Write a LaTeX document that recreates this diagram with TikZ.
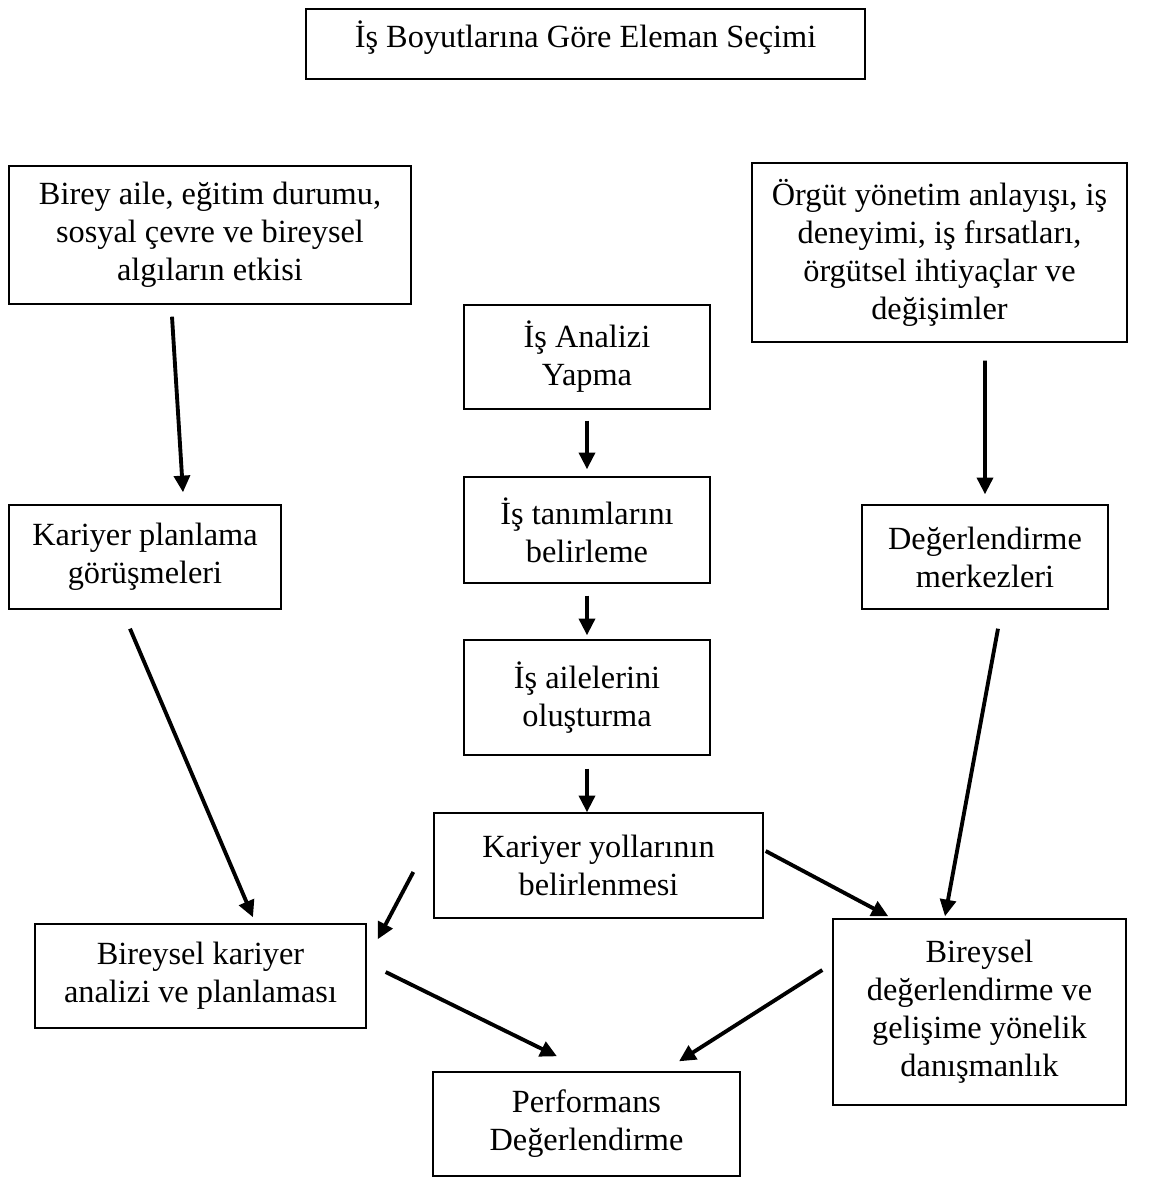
\documentclass[tikz,border=0pt]{standalone}
\usepackage{fontspec}
\setmainfont{Liberation Serif}
\usetikzlibrary{arrows.meta}

\begin{document}
\begin{tikzpicture}[x=0.02cm, y=-0.02cm, font=\fontsize{18.4}{21.6}\selectfont]
	\tikzset{
		kutu/.style={rectangle, draw=black, line width=0.8pt, align=center, inner sep=2pt},
		arrow/.style={line width=2.2pt, -{Triangle[width=9pt, length=9.5pt]}},
	}
	\useasboundingbox (0,0) rectangle (1156,1178);
	\node[kutu, minimum width=11.18cm, minimum height=1.4cm, text depth=0.4cm](baslik) at (585.5,44) {İş Boyutlarına Göre Eleman Seçimi};
	\node[kutu, minimum width=8.04cm, minimum height=2.76cm](birey) at (210,235) {Birey aile, eğitim durumu,\\ sosyal çevre ve bireysel\\ algıların etkisi};
	\node[kutu, minimum width=7.5cm, minimum height=3.58cm](orgut) at (939.5,252.5) {Örgüt yönetim anlayışı, iş\\ deneyimi, iş fırsatları,\\ örgütsel ihtiyaçlar ve\\ değişimler};
	\node[kutu, minimum width=4.92cm, minimum height=2.08cm](analiz) at (587,357) {İş Analizi\\ Yapma};
	\node[kutu, minimum width=4.92cm, minimum height=2.12cm](tanim) at (587,530) {İş tanımlarını\\ belirleme};
	\node[kutu, minimum width=4.92cm, minimum height=2.3cm](aile) at (587,697.5) {İş ailelerini\\ oluşturma};
	\node[kutu, minimum width=6.58cm, minimum height=2.1cm](yol) at (598.5,865.5) {Kariyer yollarının\\ belirlenmesi};
	\node[kutu, minimum width=5.44cm, minimum height=2.08cm](gorusme) at (145,557) {Kariyer planlama\\ görüşmeleri};
	\node[kutu, minimum width=4.92cm, minimum height=2.08cm](merkez) at (985,557) {Değerlendirme\\ merkezleri};
	\node[kutu, minimum width=6.62cm, minimum height=2.08cm](bireysel) at (200.5,976) {Bireysel kariyer\\ analizi ve planlaması};
	\node[kutu, minimum width=5.86cm, minimum height=3.72cm](danisma) at (979.5,1012) {Bireysel\\ değerlendirme ve\\ gelişime yönelik\\ danışmanlık};
	\node[kutu, minimum width=6.14cm, minimum height=2.08cm](performans) at (586.5,1124) {Performans\\ Değerlendirme};
	%draw arrows
	\draw[arrow] ([shift={(-38,12)}]birey.south) -- ([shift={(38,-12)}]gorusme.north);
	\draw[arrow] ([shift={(45.5,18)}]orgut.south) -- ([shift={(0,-10)}]merkez.north);
	\draw[arrow] ([shift={(0,11)}]analiz.south) -- ([shift={(0,-7)}]tanim.north);
	\draw[arrow] ([shift={(0,12)}]tanim.south) -- ([shift={(0,-4)}]aile.north);
	\draw[arrow] ([shift={(0,13)}]aile.south) -- ([shift={(-11.5,0)}]yol.north);
	\draw[arrow] ([shift={(-15,19)}]gorusme.south) -- ([shift={(52.5,-6)}]bireysel.north);
	\draw[arrow] ([shift={(13,19)}]merkez.south) -- ([shift={(-34.5,-2)}]danisma.north);
	\draw[arrow] ([shift={(-20,6.5)}]yol.west) -- ([shift={(11,16)}]bireysel.north east);
	\draw[arrow] ([shift={(2,-14.5)}]yol.east) -- ([shift={(56,-2)}]danisma.north west);
	\draw[arrow] ([shift={(19,-4)}]bireysel.east) -- ([shift={(-29.5,-15)}]performans.north);
	\draw[arrow] ([shift={(-10,-42)}]danisma.west) -- ([shift={(92.5,-10)}]performans.north);
\end{tikzpicture}
\end{document}
